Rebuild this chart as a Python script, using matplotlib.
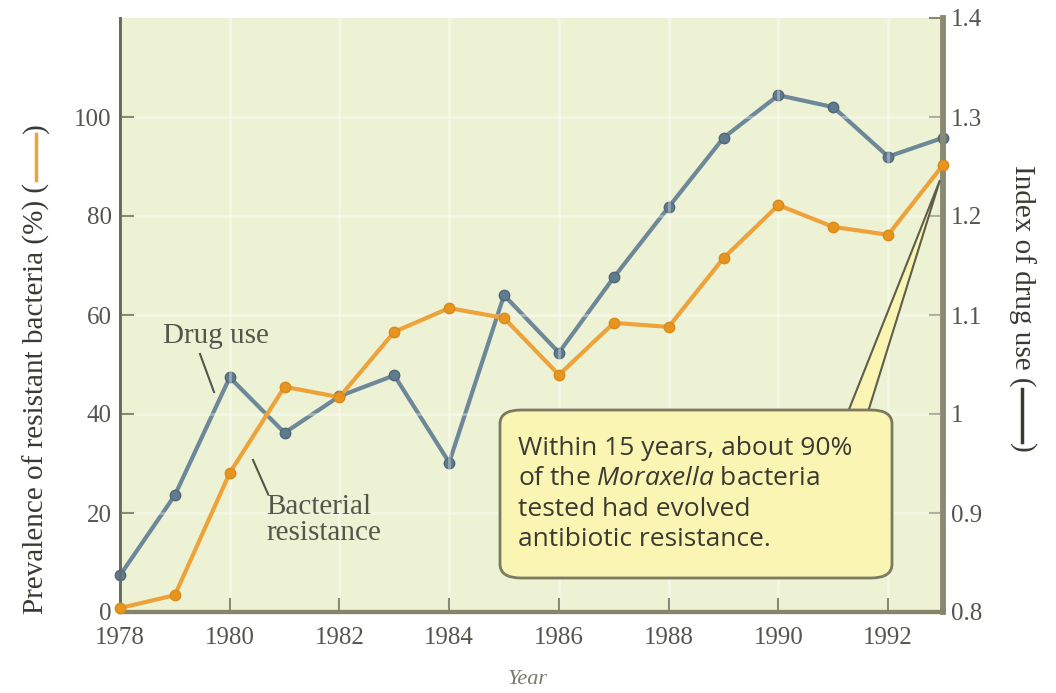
import matplotlib
matplotlib.use('Agg')
import matplotlib.pyplot as plt
from matplotlib.patches import FancyBboxPatch, Polygon
from matplotlib.lines import Line2D

plt.rcParams['mathtext.fontset'] = 'custom'
plt.rcParams['mathtext.rm'] = 'Open Sans'
plt.rcParams['mathtext.it'] = 'Open Sans:italic'

# data
years = list(range(1978, 1994))
resistance = [0.8, 3.4, 28.1, 45.5, 43.4, 56.6, 61.4, 59.4, 47.9, 58.4, 57.6, 71.5, 82.2, 77.8, 76.2, 90.3]
drug_use = [0.837, 0.918, 1.037, 0.981, 1.018, 1.039, 0.951, 1.120, 1.062, 1.138, 1.209, 1.279, 1.322, 1.310, 1.260, 1.279]
x_ticks = list(range(1978, 1993, 2))
left_ticks = [0, 20, 40, 60, 80, 100]
right_ticks = [0.8, 0.9, 1.0, 1.1, 1.2, 1.3, 1.4]
right_labels = ['0.8', '0.9', '1', '1.1', '1.2', '1.3', '1.4']

W, H = 1056, 693
fig = plt.figure(figsize=(W / 100, H / 100), dpi=100)
fig.patch.set_facecolor('white')


def px(x, y):
    # pixel position (from top-left) -> figure fraction
    return x / W, 1 - y / H


ax = fig.add_axes([120 / W, 1 - 612 / H, (943 - 120) / W, (612 - 18) / H])
ax2 = ax.twinx()

serif = 'Liberation Serif'
tick_col = '#55554e'
bg = '#eef2d4'

ax.set_xlim(1978, 1993)
ax.set_ylim(0, 120)
ax2.set_ylim(0.8, 1.4)

ax2.grid(False)
ax.grid(True, color='white', lw=2, alpha=0.35)

ax2.plot(years, drug_use, color='#6d8898', lw=3, marker='o', ms=7.5,
         mfc='#5f7b8e', mec='#4f6878', zorder=3, clip_on=False)
ax.plot(years, resistance, color='#eda33a', lw=3, marker='o', ms=7.5,
        mfc='#e8951f', mec='#d88a1c', zorder=4, clip_on=False)
ax.set_zorder(ax2.get_zorder() + 1)
ax.patch.set_visible(False)
ax2.patch.set_visible(True)
ax2.patch.set_facecolor(bg)

ax.set_xticks(x_ticks)
ax.set_xticklabels([str(v) for v in x_ticks], fontfamily=serif, fontsize=18, color=tick_col)
ax.set_yticks(left_ticks)
ax.set_yticklabels([str(v) for v in left_ticks], fontfamily=serif, fontsize=18, color=tick_col)
ax2.set_yticks(right_ticks)
ax2.set_yticklabels(right_labels, fontfamily=serif, fontsize=18, color=tick_col)

ax.tick_params(axis='y', direction='in', length=10, width=1.5, color='#8a8a70', pad=6)
ax.tick_params(axis='x', direction='in', length=10, width=1.5, color='#8a8a70', pad=11)
ax2.tick_params(axis='y', direction='in', length=10, width=1.5, color='#8a8a70', pad=6)

for a in (ax, ax2):
    a.spines['top'].set_visible(False)
    a.spines['left'].set_color('#6a6a5c')
    a.spines['left'].set_linewidth(2)
    a.spines['bottom'].set_color('#85856a')
    a.spines['bottom'].set_linewidth(3)
    a.spines['right'].set_color('#8a8a72')
    a.spines['right'].set_linewidth(4)

fig.text(*px(528, 679), 'Year', fontfamily=serif, fontsize=16, color='#7a7a70',
         ha='center', va='center', style='italic')

# series labels with leader lines
fig.text(*px(163, 336), 'Drug use', fontfamily=serif, fontsize=21, color='#55554c',
         ha='left', va='center')
fig.add_artist(Line2D([px(200, 354)[0], px(214, 392)[0]], [px(200, 354)[1], px(214, 392)[1]],
                      color='#55554c', lw=1.5))
fig.text(*px(266, 520), 'Bacterial\nresistance', fontfamily=serif, fontsize=21, color='#55554c',
         ha='left', va='center', linespacing=1.05)
fig.add_artist(Line2D([px(253, 460)[0], px(268, 494)[0]], [px(253, 460)[1], px(268, 494)[1]],
                      color='#55554c', lw=1.5))

# callout box
wedge = Polygon([px(848, 412), px(940, 180), px(868, 412)], closed=True,
                transform=fig.transFigure, facecolor='#fbf5b4', edgecolor='#5e5e4c', lw=1.5, zorder=5)
fig.add_artist(wedge)
x0, y0 = px(500, 578)
x1, y1 = px(892, 410)
box = FancyBboxPatch((x0, y0), x1 - x0, y1 - y0, boxstyle='round,pad=0,rounding_size=0.02',
                     transform=fig.transFigure, facecolor='#fbf5b4', edgecolor='#7a7a60', lw=2, zorder=6)
fig.add_artist(box)
fig.text(*px(518, 494), 'Within 15 years, about 90%\nof the $\\mathit{Moraxella}$ bacteria\ntested had evolved\nantibiotic resistance.',
         fontfamily='Open Sans', fontsize=19, color='#3a3a30', ha='left', va='center',
         linespacing=1.28, zorder=7)

# axis titles with line keys
t1 = fig.text(*px(36, 614), 'Prevalence of resistant bacteria (%) (', fontfamily=serif, fontsize=21,
              color='#3a3a34', rotation=90, ha='center', va='bottom')
fig.canvas.draw()
bb = t1.get_window_extent()
top = bb.y1 / H
fig.add_artist(Line2D([36 / W, 36 / W], [top + 0.004, top + 0.07], color='#eda33a', lw=2.5))
fig.text(36 / W, top + 0.072, ')', fontfamily=serif, fontsize=21, color='#3a3a34',
         rotation=90, ha='center', va='bottom')

t2 = fig.text(*px(1022, 165), 'Index of drug use (', fontfamily=serif, fontsize=21,
              color='#3a3a34', rotation=270, ha='center', va='top')
fig.canvas.draw()
bb2 = t2.get_window_extent()
bot = bb2.y0 / H
fig.add_artist(Line2D([1022 / W, 1022 / W], [bot - 0.004, bot - 0.08], color='#3a3a34', lw=2.5))
fig.text(1022 / W, bot - 0.082, ')', fontfamily=serif, fontsize=21, color='#3a3a34',
         rotation=270, ha='center', va='top')

fig.savefig('out.png', dpi=100)
